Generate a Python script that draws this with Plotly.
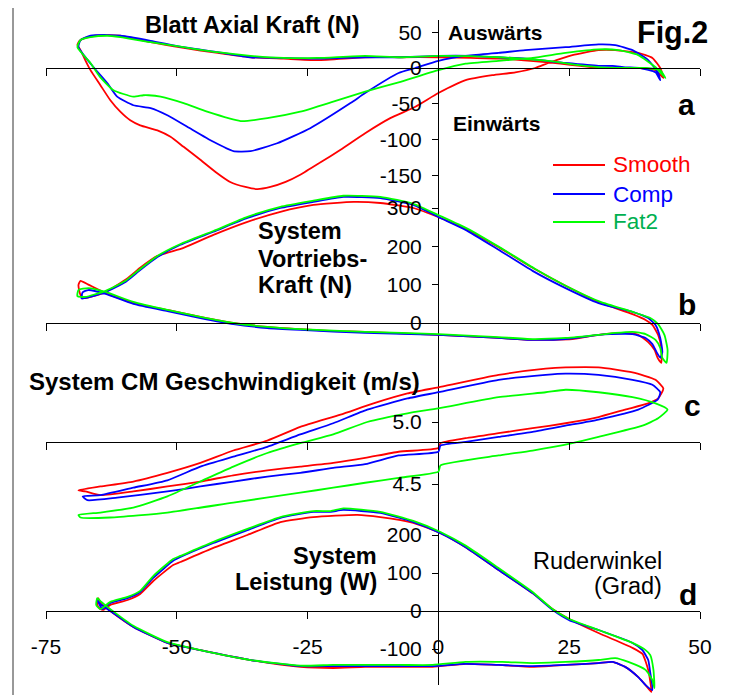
import plotly.graph_objects as go

# ---------------- data (oar angle in degrees vs. quantity) ----------------
# Panel a: Blatt Axial Kraft (N)
A_SMOOTH_X = [-69.0, -68.4, -67.5, -66.5, -64.6, -62.7, -60.8, -58.9, -57.0, -53.7, -51.2, -48.7, -45.5, -42.6,
              -39.8, -36.9, -34.6, -32.1, -29.2, -26.4, -22.6, -18.7, -14.0, -9.2, -4.4, 0, 5.2, 10.3, 14.7, 18.5,
              21.0, 25.6, 30.6, 33.8, 38.2, 40.9, 42.4, 43.0,
              41.5, 38.6, 35.7, 33.3, 31.0, 27.1, 23.3, 17.6, 11.9, 6.1, 0, -7.3, -14.0, -23.1, -29.6, -35.9,
              -42.2, -48.7, -55.0, -60.8, -63.3, -65.6, -67.5, -68.6, -69.0]
A_SMOOTH_Y = [32, 25, 11, -3, -24, -45, -61, -73, -80, -87, -96, -110, -128, -145,
              -159, -166, -169, -166, -159, -149, -132, -114, -91, -70, -54, -35, -17, -10, -6, 0,
              7, 18, 25, 25, 21, 14, 0, -14,
              -3, 0, 0, 1, 0, 3, 6, 10, 13, 14, 15, 15, 15, 11, 13, 15,
              21, 28, 36, 45, 46, 45, 42, 38, 32]
A_COMP_X = [-68.8, -65.9, -63.3, -61.4, -58.3, -55.0, -51.8, -48.0, -43.0, -39.2, -35.9, -30.8, -24.5, -16.8,
            -14.0, -7.6, -4.4, 0, 5.2, 11.5, 16.6, 24.3, 30.6, 33.8, 37.1, 40.1, 42.0, 42.4,
            41.5, 38.6, 35.7, 33.3, 30.6, 24.3, 16.6, 11.5, 6.1, 0, -7.3, -14.0, -23.1, -29.6, -35.9, -42.2,
            -48.7, -55.0, -60.8, -63.3, -66.5, -68.4, -68.8]
A_COMP_Y = [29, 1, -21, -40, -52, -56, -66, -82, -103, -116, -116, -105, -84, -49,
            -35, -7, 0, 10, 17, 21, 25, 29, 33, 32, 25, 11, -7, -17,
            -6, 0, 1, 3, 3, 7, 13, 15, 17, 17, 15, 15, 13, 14, 15, 22,
            29, 38, 45, 46, 45, 39, 29]
A_FAT2_X = [-69.0, -66.5, -64.6, -62.1, -58.3, -56.4, -55.4, -53.1, -48.7, -44.2, -37.8, -32.7, -26.4, -20.1,
            -14.0, -7.6, 0, 5.2, 11.5, 18.0, 24.3, 30.6, 34.4, 38.2, 41.5, 43.4,
            42.4, 39.6, 35.7, 31.0, 26.8, 21.0, 11.5, 0, -7.3, -14.0, -23.1, -29.6, -35.9, -42.2, -48.7,
            -55.0, -60.8, -63.3, -66.5, -68.4, -69.0]
A_FAT2_Y = [29, 7, -13, -31, -40, -38, -38, -40, -49, -61, -74, -70, -61, -47,
            -33, -20, -3, 6, 10, 14, 21, 26, 25, 18, 1, -14,
            -3, 0, 0, 1, 4, 10, 15, 17, 15, 17, 14, 14, 17, 22, 29,
            36, 43, 45, 43, 39, 29]

# Panel b: System Vortriebs-Kraft (N)
B_SMOOTH_X = [-67.5, -63.6, -59.4, -57.0, -53.7, -48.7, -43.0, -36.5, -30.2, -23.9, -16.2, -11.1, -4.8, 0.4,
              5.2, 11.5, 18.0, 24.3, 30.6, 37.1, 39.6, 40.9, 42.0, 42.6, 42.6,
              41.9, 41.3, 40.1, 38.2, 35.7, 30.6, 25.6, 18.0, 11.5, 0, -14.0, -20.1, -26.4, -32.7, -39.2,
              -45.5, -51.8, -58.3, -63.6, -66.9, -68.4, -68.8, -68.4, -67.5]
B_SMOOTH_Y = [65, 81, 117, 144, 175, 196, 230, 264, 290, 308, 316, 313, 300, 274,
              245, 198, 144, 97, 55, 23, 8, -5, -31, -65, -104,
              -91, -70, -50, -31, -26, -31, -42, -44, -39, -31, -23, -21, -16, -10, 0,
              16, 34, 52, 78, 100, 110, 99, 73, 65]
B_COMP_X = [-67.1, -63.6, -59.8, -57.0, -53.7, -49.3, -43.0, -36.5, -30.2, -23.9, -18.2, -11.1, -4.8, 0.4,
            5.2, 11.5, 18.0, 24.3, 30.6, 37.1, 40.1, 41.5, 42.4, 42.8, 42.4,
            41.7, 40.9, 39.6, 37.1, 32.9, 30.6, 24.3, 18.0, 11.5, 0, -14.0, -26.4, -32.7, -39.2, -45.5,
            -51.8, -58.3, -63.6, -66.9, -68.0, -68.2, -67.1]
B_COMP_Y = [66, 81, 107, 138, 172, 204, 238, 274, 300, 316, 329, 326, 308, 274,
            243, 191, 136, 91, 52, 29, 13, -5, -39, -76, -91,
            -76, -55, -39, -29, -29, -31, -42, -44, -39, -31, -26, -18, -13, -3, 13,
            31, 50, 76, 86, 80, 64, 66]
B_FAT2_X = [-67.5, -63.6, -59.8, -57.0, -53.7, -49.3, -43.0, -36.5, -30.2, -23.9, -18.2, -11.1, -4.8, 0.4,
            5.7, 11.9, 18.5, 24.8, 31.0, 37.1, 40.5, 42.0, 43.2, 43.8, 43.6,
            42.8, 42.4, 41.5, 39.6, 37.1, 33.8, 30.6, 24.3, 18.0, 11.5, 0, -14.0, -26.4, -32.7, -39.2,
            -45.5, -51.8, -58.3, -63.6, -66.9, -68.8, -69.0, -67.5]
B_FAT2_Y = [68, 84, 110, 141, 175, 206, 240, 277, 303, 319, 332, 329, 311, 279,
            245, 196, 141, 94, 55, 29, 13, -3, -31, -70, -104,
            -91, -65, -44, -29, -23, -26, -31, -39, -42, -37, -29, -23, -16, -10, 0,
            16, 34, 55, 81, 91, 86, 70, 68]

# Panel c: System CM Geschwindigkeit (m/s)
C_SMOOTH_X = [-68.8, -64.6, -58.3, -51.8, -45.5, -39.2, -32.7, -26.4, -18.7, -12.4, -5.9, 0, 11.5, 20.5,
              24.3, 30.6, 37.1, 41.5, 43.0, 42.0, 40.1, 35.7, 30.6, 24.3, 18.0, 11.5, 5.2, 0.4, 0,
              -7.6, -14.0, -20.1, -26.4, -32.7, -39.2, -45.5, -51.8, -58.3, -64.6, -67.5, -68.8]
C_SMOOTH_Y = [4.45, 4.48, 4.52, 4.59, 4.67, 4.77, 4.85, 4.96, 5.06, 5.15, 5.23, 5.28, 5.38, 5.43,
              5.44, 5.44, 5.40, 5.34, 5.27, 5.19, 5.15, 5.10, 5.04, 4.99, 4.95, 4.91, 4.87, 4.83, 4.79,
              4.76, 4.71, 4.67, 4.64, 4.61, 4.57, 4.52, 4.48, 4.44, 4.41, 4.44, 4.45]
C_COMP_X = [-68.0, -64.6, -58.3, -51.8, -45.5, -39.2, -32.7, -26.4, -20.1, -13.6, -5.9, 0, 11.5, 20.5,
            24.3, 30.6, 37.1, 40.9, 42.4, 41.9, 38.2, 30.6, 24.3, 18.0, 11.5, 5.2, 0.4, 0,
            -7.6, -14.0, -20.1, -26.4, -32.7, -39.2, -45.5, -51.8, -61.4, -67.1, -68.0]
C_COMP_Y = [4.40, 4.41, 4.47, 4.53, 4.64, 4.72, 4.80, 4.90, 4.99, 5.10, 5.19, 5.24, 5.34, 5.38,
            5.39, 5.38, 5.34, 5.30, 5.24, 5.18, 5.10, 5.02, 4.97, 4.92, 4.88, 4.84, 4.81, 4.76,
            4.73, 4.66, 4.63, 4.59, 4.56, 4.52, 4.48, 4.44, 4.39, 4.37, 4.40]
C_FAT2_X = [-68.8, -64.6, -58.3, -51.8, -45.5, -39.2, -32.7, -26.4, -20.1, -13.6, -5.9, 0, 11.5, 20.5,
            24.3, 30.6, 37.1, 41.5, 43.8, 42.0, 39.0, 30.6, 25.6, 18.0, 11.5, 0.4, 0,
            -7.6, -14.0, -20.1, -26.4, -39.2, -51.8, -62.7, -68.4, -68.8]
C_FAT2_Y = [4.25, 4.27, 4.31, 4.40, 4.52, 4.64, 4.75, 4.83, 4.90, 5.00, 5.07, 5.11, 5.20, 5.24,
            5.26, 5.24, 5.20, 5.15, 5.10, 5.03, 4.97, 4.88, 4.83, 4.77, 4.73, 4.65, 4.60,
            4.55, 4.51, 4.47, 4.43, 4.35, 4.27, 4.23, 4.23, 4.25]

# Panel d: System Leistung (W)
D_SMOOTH_X = [-64.0, -62.7, -59.4, -57.0, -54.5, -50.7, -49.3, -43.0, -36.5, -30.2, -23.9, -15.5, -11.1, -4.8,
              0.4, 5.2, 11.5, 18.0, 21.8, 25.0, 30.6, 37.1, 39.0, 40.1, 40.7,
              39.6, 38.2, 35.7, 33.3, 30.6, 24.3, 18.0, 11.5, 5.2, -1.1, -7.3, -14.0, -20.1, -26.4, -35.9,
              -45.5, -51.8, -58.3, -62.7, -64.6, -65.0, -65.2, -64.6, -64.0]
D_SMOOTH_Y = [3, 16, 29, 45, 79, 121, 129, 166, 200, 234, 247, 253, 247, 232,
              205, 168, 108, 47, 5, -21, -58, -97, -113, -155, -213,
              -195, -174, -147, -134, -137, -142, -147, -142, -139, -147, -147, -147, -150, -147, -129,
              -103, -84, -42, 0, 21, 34, 16, 5, 3]
D_COMP_X = [-64.2, -62.7, -59.4, -57.0, -54.5, -50.7, -49.3, -43.0, -36.5, -30.2, -23.9, -20.6, -18.2, -11.1,
            -4.8, 0.4, 5.2, 11.5, 18.0, 21.8, 25.0, 30.6, 37.1, 39.0, 40.1, 40.5, 40.9,
            39.6, 38.2, 35.7, 33.3, 30.6, 24.3, 18.0, 11.5, 5.2, -1.1, -7.3, -14.0, -20.1, -26.4, -35.9,
            -45.5, -51.8, -58.3, -62.7, -64.6, -65.2, -64.2]
D_COMP_Y = [5, 21, 34, 50, 87, 132, 142, 179, 213, 245, 261, 261, 266, 258,
            234, 205, 168, 108, 47, 3, -24, -50, -84, -103, -129, -163, -208,
            -195, -174, -147, -134, -137, -142, -145, -142, -139, -145, -145, -145, -145, -145, -129,
            -103, -84, -42, 0, 18, 29, 5]
D_FAT2_X = [-64.6, -62.7, -59.4, -57.0, -54.5, -50.7, -49.3, -43.0, -36.5, -30.2, -23.9, -20.6, -18.2, -11.1,
            -4.8, 0.4, 5.2, 11.5, 18.0, 21.8, 25.0, 30.6, 37.1, 39.6, 40.5, 41.1, 41.3,
            40.9, 39.6, 36.3, 33.8, 30.6, 24.3, 18.0, 12.2, 5.2, -1.1, -7.3, -14.0, -20.1, -26.4, -35.9,
            -45.5, -51.8, -58.3, -62.7, -64.6, -65.2, -65.4, -64.6]
D_FAT2_Y = [5, 24, 37, 53, 92, 137, 145, 182, 216, 247, 263, 263, 270, 261,
            237, 208, 172, 113, 50, 5, -21, -50, -84, -103, -116, -155, -203,
            -182, -155, -134, -124, -129, -134, -137, -134, -134, -142, -142, -142, -142, -144, -129,
            -103, -82, -39, 5, 26, 34, 16, 5]

SERIES = ["Smooth", "Comp", "Fat2"]
LINE_COLORS = {"Smooth": "#FF0000", "Comp": "#0000FF", "Fat2": "#00FF00"}
TEXT_COLORS = {"Smooth": "#FF0000", "Comp": "#0000FF", "Fat2": "#00B050"}

PANELS = [  # (xaxis, yaxis, {series: (x, y)})
    ("x", "y", {"Smooth": (A_SMOOTH_X, A_SMOOTH_Y), "Comp": (A_COMP_X, A_COMP_Y), "Fat2": (A_FAT2_X, A_FAT2_Y)}),
    ("x2", "y2", {"Smooth": (B_SMOOTH_X, B_SMOOTH_Y), "Comp": (B_COMP_X, B_COMP_Y), "Fat2": (B_FAT2_X, B_FAT2_Y)}),
    ("x3", "y3", {"Smooth": (C_SMOOTH_X, C_SMOOTH_Y), "Comp": (C_COMP_X, C_COMP_Y), "Fat2": (C_FAT2_X, C_FAT2_Y)}),
    ("x4", "y4", {"Smooth": (D_SMOOTH_X, D_SMOOTH_Y), "Comp": (D_COMP_X, D_COMP_Y), "Fat2": (D_FAT2_X, D_FAT2_Y)}),
]

X_TICKS = [-75, -50, -25, 0, 25, 50]
X_TICKTEXT = ["-75", "-50", "-25", "0", "25", "50"]
A_TICKS = [50, 0, -50, -100, -150]
B_TICKS = [0, 100, 200, 300]
C_TICKS = [4.5, 5.0]
C_TICKTEXT = ["4.5", "5.0"]
D_TICKS = [-100, 0, 100, 200]

# ---------------- geometry helpers (pixel layout of the 730x695 page) ----------------
W, H = 730, 695
BODY = 8              # default page margin around the plotly div
PL, PR = 46, 700      # plot area, page x pixels (-75 .. 50)
PT, PB = 20, 695      # plot area, page y pixels
AXIS_BOTTOM = 685     # lower end of the vertical axis line
FONT = "Liberation Sans, Arial, sans-serif"


def px2paper(px):
    return (px - PL) / (PR - PL)


def py2paper(py):
    return (PB - py) / (PB - PT)


def yrange(v0, p0, v1, p1, bottom=PB, top=PT):
    s = (v1 - v0) / (p1 - p0)
    return [v0 + (bottom - p0) * s, v0 + (top - p0) * s]


fig = go.Figure()
for xa, ya, data in PANELS:
    for s in SERIES:
        xs, ys = data[s]
        fig.add_trace(go.Scatter(x=xs, y=ys, mode="lines", name=s, xaxis=xa, yaxis=ya,
                                 line=dict(color=LINE_COLORS[s], width=1.8, shape="spline", smoothing=0.5),
                                 showlegend=False, hoverinfo="skip"))

xcommon = dict(range=[-75, 50], domain=[0, 1], anchor="free", showline=True, linecolor="black", linewidth=1,
               ticks="outside", ticklen=7, tickwidth=1, tickcolor="black", tickvals=X_TICKS,
               ticktext=X_TICKTEXT, showgrid=False, zeroline=False, fixedrange=True)
ycommon = dict(anchor="free", position=px2paper(438), side="left", ticks="outside", ticklen=6, tickwidth=1,
               tickcolor="black", showgrid=False, zeroline=False, fixedrange=True,
               tickfont=dict(family=FONT, size=21, color="black"), ticklabelstandoff=6)

layout_axes = dict(
    xaxis=dict(**xcommon, position=py2paper(68), showticklabels=False),
    xaxis2=dict(**xcommon, position=py2paper(323), showticklabels=False),
    xaxis3=dict(**xcommon, position=py2paper(442), showticklabels=False),
    xaxis4=dict(**xcommon, position=py2paper(611), showticklabels=True,
                tickfont=dict(family=FONT, size=21, color="black"), ticklabelstandoff=10),
    yaxis=dict(**ycommon, range=yrange(0, 68, -150, 175.5, bottom=AXIS_BOTTOM),
               domain=[py2paper(AXIS_BOTTOM), 1],
               showline=True, linecolor="black", linewidth=1,
               tickvals=A_TICKS, ticktext=[str(v) for v in A_TICKS]),
    yaxis2=dict(**ycommon, range=yrange(0, 323, 300, 208), domain=[0, 1], showline=False,
                tickvals=B_TICKS, ticktext=[str(v) for v in B_TICKS]),
    yaxis3=dict(**ycommon, range=yrange(5.0, 422, 4.5, 484), domain=[0, 1], showline=False,
                tickvals=C_TICKS, ticktext=C_TICKTEXT),
    yaxis4=dict(**ycommon, range=yrange(0, 611, 200, 535), domain=[0, 1], showline=False,
                tickvals=D_TICKS, ticktext=[str(v) for v in D_TICKS]),
)

annotations = []


def ann(text, px, py, size, bold=False, color="black", xanchor="center", align="left"):
    t = f"<b>{text}</b>" if bold else text
    annotations.append(dict(text=t, x=px2paper(px), y=py2paper(py), xref="paper", yref="paper",
                            xanchor=xanchor, yanchor="middle", showarrow=False, align=align,
                            font=dict(family=FONT, size=size, color=color)))


ann("Blatt Axial Kraft (N)", 252, 25, 23.5, bold=True)
ann("Auswärts", 495, 32, 21, bold=True)
ann("Einwärts", 497, 123, 21, bold=True)
ann("Fig.2", 672, 32, 30.5, bold=True)
ann("a", 686, 105, 30, bold=True)
ann("b", 687, 304, 30, bold=True)
ann("c", 692, 405, 30, bold=True)
ann("d", 688, 594, 30, bold=True)
ann("System", 256, 231, 23.5, bold=True, xanchor="left")
ann("Vortriebs-", 256, 259, 23.5, bold=True, xanchor="left")
ann("Kraft (N)", 256, 285, 23.5, bold=True, xanchor="left")
ann("System CM Geschwindigkeit (m/s)", 27, 381, 24, bold=True, xanchor="left")
ann("System", 379, 556, 23.5, bold=True, xanchor="right")
ann("Leistung (W)", 379, 582, 23.5, bold=True, xanchor="right")
ann("Ruderwinkel", 664, 561, 23.5, xanchor="right")
ann("(Grad)", 664, 586, 23.5, xanchor="right")

shapes = [dict(type="rect", xref="paper", yref="paper", x0=px2paper(13), x1=px2paper(725),
               y0=py2paper(705), y1=py2paper(5), line=dict(color="#333333", width=1), fillcolor="rgba(0,0,0,0)")]

LEGEND_Y = {"Smooth": 165, "Comp": 194, "Fat2": 222}
for s in SERIES:
    shapes.append(dict(type="line", xref="paper", yref="paper", x0=px2paper(553), x1=px2paper(605),
                       y0=py2paper(LEGEND_Y[s]), y1=py2paper(LEGEND_Y[s]),
                       line=dict(color=LINE_COLORS[s], width=1.8)))
    ann(s, 611, LEGEND_Y[s], 22.5, color=TEXT_COLORS[s], xanchor="left")

# the figure sits BODY px in from the page's top-left corner
fig.update_layout(
    width=W - BODY, height=H - BODY,
    margin=dict(l=PL - BODY, r=W - PR, t=PT - BODY, b=H - PB, pad=0),
    paper_bgcolor="white", plot_bgcolor="rgba(0,0,0,0)",
    showlegend=False,
    font=dict(family=FONT, color="black"),
    annotations=annotations, shapes=shapes,
    **layout_axes,
)

fig.write_html("out.html")
